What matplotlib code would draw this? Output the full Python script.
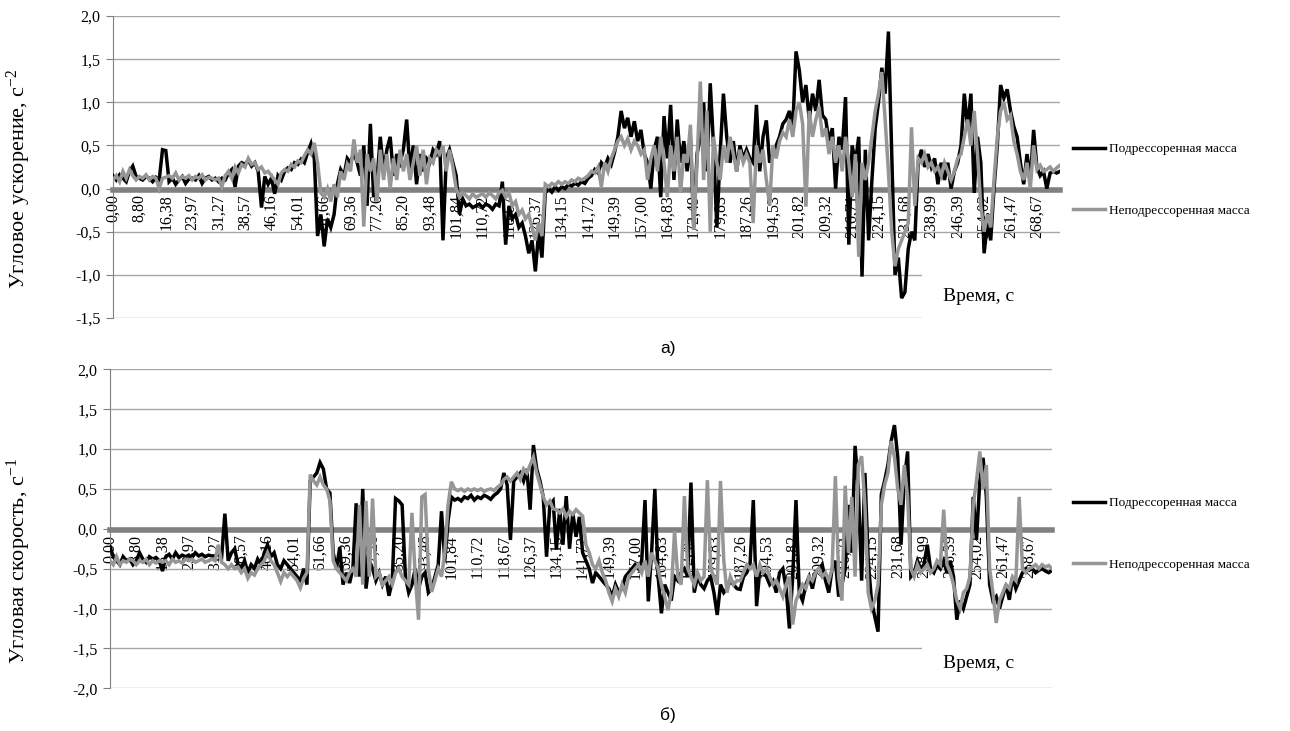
import matplotlib
matplotlib.use("Agg")
import matplotlib.pyplot as plt
from matplotlib.patches import Rectangle
from matplotlib.ticker import FixedLocator

plt.rcParams['font.family'] = ['Liberation Serif', 'DejaVu Serif']
plt.rcParams['mathtext.fontset'] = 'custom'
plt.rcParams['mathtext.rm'] = 'Liberation Serif'
plt.rcParams['mathtext.it'] = 'Liberation Serif'

# ---------------- data ----------------
time_labels = ["0,00", "8,80", "16,38", "23,97", "31,27", "38,57", "46,16", "54,01",
               "61,66", "69,36", "77,26", "85,20", "93,48", "101,84", "110,72", "118,67",
               "126,37", "134,15", "141,72", "149,39", "157,00", "164,83", "172,49", "179,83",
               "187,26", "194,53", "201,82", "209,32", "216,71", "224,15", "231,68", "238,99",
               "246,39", "254,02", "261,47", "268,67"]
samples_per_label = 8

y_ticks_a = [-1.5, -1.0, -0.5, 0.0, 0.5, 1.0, 1.5, 2.0]
y_ticklabels_a = ["-1,5", "-1,0", "-0,5", "0,0", "0,5", "1,0", "1,5", "2,0"]
y_ticks_b = [-2.0, -1.5, -1.0, -0.5, 0.0, 0.5, 1.0, 1.5, 2.0]
y_ticklabels_b = ["-2,0", "-1,5", "-1,0", "-0,5", "0,0", "0,5", "1,0", "1,5", "2,0"]

series_names = ["Подрессоренная масса", "Неподрессоренная масса"]

# (a) angular acceleration, sprung mass
accel_sprung = [
    0.15, 0.10, 0.16, 0.12, 0.08, 0.20, 0.26, 0.14,
    0.12, 0.10, 0.14, 0.12, 0.08, 0.13, 0.10, 0.45,
    0.44, 0.08, 0.12, 0.05, 0.10, 0.14, 0.06, 0.11,
    0.12, 0.10, 0.15, 0.06, 0.12, 0.14, 0.10, 0.12,
    0.08, 0.12, 0.10, 0.18, 0.22, 0.02, 0.26, 0.30,
    0.28, 0.33, 0.26, 0.30, 0.20, -0.22, 0.14, 0.05,
    0.12, -0.06, 0.15, 0.10, 0.20, 0.24, 0.22, 0.30,
    0.28, 0.34, 0.30, 0.42, 0.52, 0.35, -0.55, -0.30,
    -0.67, -0.35, -0.45, -0.30, 0.05, 0.22, 0.15, 0.35,
    0.30, 0.42, 0.30, 0.15, 0.50, -0.20, 0.75, -0.10,
    0.10, 0.60, 0.20, 0.45, 0.60, 0.15, 0.40, 0.30,
    0.45, 0.80, 0.20, 0.50, 0.05, 0.40, 0.20, 0.35,
    0.30, 0.45, 0.40, 0.55, -0.60, 0.35, 0.45, 0.30,
    0.15, -0.30, -0.12, -0.20, -0.18, -0.22, -0.20, -0.18,
    -0.22, -0.18, -0.20, -0.24, -0.18, -0.20, 0.08, -0.65,
    -0.20, -0.35, -0.30, -0.45, -0.40, -0.55, -0.75, -0.60,
    -0.96, -0.50, -0.80, -0.05, 0.00, -0.04, 0.02, -0.02,
    0.02, 0.00, 0.05, 0.03, 0.06, 0.04, 0.08, 0.06,
    0.12, 0.15, 0.22, 0.18, 0.30, 0.25, 0.35, 0.28,
    0.42, 0.60, 0.90, 0.70, 0.82, 0.60, 0.78, 0.55,
    0.68, 0.40, 0.30, 0.00, 0.45, 0.60, -0.10, 0.84,
    0.35, 0.97, 0.10, 0.80, 0.30, 0.55, 0.20, 0.60,
    -0.45, 0.40, 0.60, 1.00, 0.20, 1.22, 0.50, -0.45,
    0.40, 1.10, 0.60, 0.30, 0.55, 0.20, 0.50, 0.35,
    0.45, 0.35, 0.30, 0.97, 0.20, 0.60, 0.79, 0.30,
    0.40, 0.50, 0.60, 0.75, 0.80, 0.90, 0.70, 1.59,
    1.37, 1.00, 1.20, 0.80, 1.10, 0.90, 1.26, 0.85,
    0.80, 0.55, 0.70, 0.00, 0.60, 0.45, 1.06, -0.65,
    0.50, 0.30, 0.60, -1.02, 0.45, -0.60, 0.10, 0.70,
    1.00, 1.40, 1.10, 1.82, 0.40, -1.00, -0.80, -1.27,
    -1.20, -0.70, -0.50, -0.60, 0.30, 0.45, 0.25, 0.40,
    0.25, 0.35, 0.05, 0.30, 0.10, 0.30, 0.00, 0.20,
    0.30, 0.50, 1.10, 0.70, 1.10, -0.05, 0.60, 0.30,
    -0.75, -0.40, -0.60, 0.00, 0.50, 1.20, 1.05, 1.15,
    0.90, 0.72, 0.60, 0.30, 0.05, 0.40, 0.10, 0.68,
    0.25, 0.15, 0.20, 0.00, 0.18, 0.20, 0.18, 0.20,
]

# (a) angular acceleration, unsprung mass
accel_unsprung = [
    0.10, 0.15, 0.08, 0.20, 0.12, 0.22, 0.15, 0.10,
    0.14, 0.12, 0.16, 0.10, 0.14, 0.12, 0.00, 0.12,
    0.13, 0.15, 0.12, 0.18, 0.10, 0.14, 0.12, 0.15,
    0.10, 0.14, 0.12, 0.16, 0.10, 0.13, 0.12, 0.10,
    0.12, 0.02, 0.15, 0.20, 0.12, 0.25, 0.18, 0.28,
    0.25, 0.35, 0.28, 0.30, 0.22, 0.25, 0.18, 0.20,
    0.15, 0.10, 0.05, 0.18, 0.22, 0.20, 0.28, 0.25,
    0.32, 0.30, 0.38, 0.45, 0.40, 0.53, 0.30, -0.05,
    -0.10, 0.00, -0.15, 0.05, -0.10, 0.20, 0.10, 0.28,
    0.20, 0.57, 0.30, 0.45, -0.44, 0.40, 0.20, 0.35,
    -0.15, 0.45, 0.10, 0.40, 0.00, 0.35, 0.10, 0.45,
    0.20, 0.40, 0.10, 0.30, 0.50, 0.15, 0.45, 0.05,
    0.35, 0.30, 0.45, 0.40, 0.50, 0.20, 0.45, 0.25,
    0.00, -0.10, -0.05, -0.08, -0.12, -0.06, -0.10, -0.08,
    -0.06, -0.10, -0.05, -0.08, -0.12, -0.05, -0.02, -0.10,
    -0.05, -0.20, -0.15, -0.30, -0.25, -0.35, -0.30, -0.45,
    -0.60, -0.40, -0.55, 0.05, 0.02, 0.06, 0.04, 0.08,
    0.05, 0.08, 0.06, 0.10, 0.08, 0.12, 0.10, 0.12,
    0.15, 0.20, 0.18, 0.25, 0.02, 0.30, 0.20, 0.35,
    0.45, 0.55, 0.60, 0.50, 0.58, 0.45, 0.55, 0.50,
    0.40, 0.45, 0.10, 0.35, 0.50, 0.20, 0.60, 0.30,
    -0.10, 0.50, 0.20, 0.60, -0.05, 0.40, 0.30, 0.74,
    -0.48, 0.30, 1.24, 0.10, 0.90, -0.50, 0.60, 0.30,
    0.10, 0.50, 0.30, 0.60, 0.40, 0.20, 0.45, 0.30,
    0.40, 0.30, -0.40, 0.50, 0.30, 0.45, 0.10, -0.20,
    0.50, 0.35, 0.55, 0.65, 0.60, 0.80, 0.60, 0.90,
    1.00, 0.75, -0.21, 0.90, 0.60, 0.80, 0.95, 0.60,
    0.70, 0.40, 0.60, 0.30, 0.50, 0.20, 0.60, 0.30,
    -0.10, 0.40, -0.79, 0.30, 0.10, 0.30, 0.60, 0.90,
    1.10, 1.35, 0.80, 0.20, -0.50, -0.90, -0.70, -0.60,
    -0.50, -0.40, 0.71, -0.20, 0.35, 0.30, 0.40, 0.25,
    0.30, 0.20, 0.25, 0.15, 0.30, 0.20, 0.10, 0.20,
    0.35, 0.40, 0.60, 0.80, 0.50, 0.90, 0.40, -0.20,
    -0.50, -0.30, -0.45, 0.10, 0.60, 0.90, 1.00, 0.80,
    0.85, 0.55, 0.40, 0.20, 0.10, 0.30, 0.00, 0.50,
    0.22, 0.27, 0.20, 0.22, 0.25, 0.20, 0.24, 0.27,
]

# (б) angular velocity, sprung mass
vel_sprung = [
    -0.22, -0.35, -0.40, -0.45, -0.35, -0.40, -0.38, -0.45,
    -0.40, -0.30, -0.38, -0.42, -0.35, -0.38, -0.36, -0.40,
    -0.53, -0.35, -0.32, -0.38, -0.30, -0.36, -0.33, -0.35,
    -0.33, -0.36, -0.30, -0.34, -0.32, -0.35, -0.33, -0.34,
    -0.34, -0.32, -0.36, 0.19, -0.40, -0.30, -0.25, -0.45,
    -0.50, -0.40, -0.55, -0.45, -0.50, -0.38, -0.45, -0.30,
    -0.20, -0.35, -0.30, -0.45, -0.50, -0.40, -0.45, -0.50,
    -0.55, -0.60, -0.65, -0.50, -0.70, 0.60, 0.65, 0.70,
    0.83, 0.75, 0.50, 0.45, -0.30, -0.50, -0.23, -0.70,
    -0.55, -0.68, -0.50, 0.32, -0.60, 0.50, -0.75, -0.40,
    -0.50, -0.65, -0.55, -0.70, -0.60, -0.84, -0.65, 0.38,
    0.35, 0.30, -0.60, -0.80, -0.70, -0.50, -0.75, -0.60,
    -0.55, -0.80, -0.75, -0.60, -0.45, 0.22, -0.40, 0.10,
    0.40, 0.36, 0.38, 0.35, 0.40, 0.38, 0.42, 0.36,
    0.40, 0.38, 0.42, 0.40, 0.37, 0.42, 0.45, 0.50,
    0.70, 0.55, -0.14, 0.60, 0.65, 0.70, 0.60, 0.75,
    0.24, 1.05, 0.75, 0.60, 0.40, -0.35, 0.30, 0.35,
    -0.26, 0.25, -0.20, 0.41, -0.25, 0.20, -0.10, 0.15,
    -0.30, -0.40, -0.50, -0.68, -0.55, -0.60, -0.65, -0.70,
    -0.75, -0.85, -0.70, -0.80, -0.75, -0.60, -0.55, -0.50,
    -0.45, -0.50, -0.40, 0.36, -0.91, -0.30, 0.50, -0.60,
    -1.06, -0.70, -0.80, -0.90, -0.60, -0.65, -0.55, -0.50,
    -0.60, 0.58, -0.80, -0.60, -0.70, -0.75, -0.65, -0.60,
    -0.80, -1.08, -0.70, -0.80, -0.75, -0.65, -0.70, -0.75,
    -0.76, -0.60, -0.55, -0.45, 0.36, -0.97, -0.50, -0.55,
    -0.60, -0.70, -0.65, -0.80, -0.55, -0.50, -0.75, -1.25,
    -0.60, 0.36, -0.80, -0.90, -0.70, -0.60, -0.75, -0.55,
    -0.50, -0.45, -0.65, -0.80, -0.50, -0.40, -0.85, -0.70,
    -0.50, 0.30, -0.30, 1.04, 0.50, -0.65, 0.70, -0.40,
    -0.90, -1.10, -1.29, 0.43, 0.60, 0.80, 1.10, 1.30,
    0.90, -0.20, 0.60, 0.97, -0.60, -0.55, -0.40, -0.50,
    -0.45, -0.20, -0.50, -0.55, -0.45, -0.50, -0.40, -0.55,
    -0.40, -0.60, -1.14, -0.90, -1.00, -0.85, -0.70, 0.40,
    -0.14, 0.60, 0.89, 0.40, -0.70, -0.90, -0.85, -1.00,
    -0.85, -0.70, -0.89, -0.60, -0.75, -0.65, -0.55, -0.50,
    -0.52, -0.50, -0.55, -0.52, -0.50, -0.53, -0.55, -0.52,
]

# (б) angular velocity, unsprung mass
vel_unsprung = [
    -0.40, -0.45, -0.35, -0.45, -0.40, -0.42, -0.38, -0.40,
    -0.45, -0.40, -0.42, -0.38, -0.45, -0.40, -0.43, -0.40,
    -0.42, -0.40, -0.45, -0.38, -0.42, -0.40, -0.43, -0.38,
    -0.40, -0.38, -0.42, -0.40, -0.38, -0.42, -0.40, -0.38,
    -0.40, -0.20, -0.42, -0.45, -0.50, -0.45, -0.50, -0.48,
    -0.55, -0.50, -0.62, -0.55, -0.58, -0.50, -0.45, -0.40,
    -0.30, -0.40, -0.45, -0.55, -0.66, -0.55, -0.60, -0.55,
    -0.60, -0.65, -0.74, -0.62, -0.55, 0.68, 0.60, 0.55,
    0.65, 0.55, 0.50, 0.35, -0.40, -0.50, -0.55, -0.60,
    -0.65, -0.55, -0.50, -0.60, 0.30, -0.70, 0.35, -0.60,
    0.38, -0.60, -0.55, -0.70, -0.65, -0.60, -0.70, -0.55,
    -0.50, -0.60, -0.65, -0.70, 0.20, -0.60, -1.14, 0.40,
    0.43, -0.50, -0.79, -0.65, -0.50, -0.60, -0.30, 0.30,
    0.59, 0.50, 0.48, 0.50, 0.47, 0.50, 0.48, 0.50,
    0.48, 0.50, 0.47, 0.49, 0.50, 0.48, 0.52, 0.55,
    0.62, 0.65, 0.60, 0.65, 0.70, 0.62, 0.75, 0.70,
    0.80, 0.90, 0.70, 0.55, 0.40, 0.30, 0.35, 0.25,
    0.24, 0.20, 0.25, 0.15, 0.22, 0.18, 0.24, 0.20,
    0.16, -0.20, -0.30, -0.45, -0.50, -0.40, -0.55, -0.65,
    -0.80, -0.91, -0.75, -0.85, -0.70, -0.80, -0.60, -0.55,
    -0.50, -0.45, -0.55, -0.40, -0.60, -0.30, -0.40, -0.50,
    -0.70, -0.85, -1.02, -0.80, -0.03, -0.60, -0.70, 0.41,
    -0.50, -0.60, -0.70, -0.55, -0.65, -0.60, 0.61, -0.50,
    -0.60, -0.70, 0.60, -0.40, -0.80, -0.60, -0.70, -0.65,
    -0.65, -0.55, -0.45, -0.50, -0.45, -0.60, -0.45, -0.55,
    -0.50, -0.60, -0.70, -0.65, -0.75, -0.85, -0.70, -0.60,
    -1.20, -0.90, -0.80, -0.70, -0.75, -0.60, -0.65, -0.55,
    -0.50, -0.60, -0.55, -0.65, -0.50, 0.66, -0.60, -0.90,
    0.54, -0.30, 0.40, -0.60, 0.80, 0.91, 0.30, -0.80,
    -1.00, -0.90, -0.70, 0.30, 0.55, 0.70, 1.10, 0.90,
    0.50, 0.30, 0.80, 0.40, -0.50, -0.60, -0.45, -0.55,
    -0.50, -0.45, -0.55, -0.50, -0.40, -0.45, 0.24, -0.45,
    -0.55, -0.70, -0.90, -1.00, -0.80, -0.75, -0.60, 0.30,
    0.60, 0.97, 0.50, 0.80, -0.50, -0.80, -1.18, -0.90,
    -0.80, -0.70, -0.75, -0.60, -0.65, 0.40, -0.50, -0.55,
    -0.50, -0.48, -0.45, -0.50, -0.45, -0.48, -0.46, -0.50,
]

# ---------------- styling ----------------
C_SPRUNG = "#000000"
C_UNSPRUNG = "#969696"
C_GRID = "#a6a6a6"
C_ZERO = "#808080"

fig = plt.figure(figsize=(12.9, 7.31), dpi=100)
W, H = 1290, 731


def make_panel(rect, s1, s2, yticks, yticklabels, ylim, ylabel, label_xy, box_rect,
               time_xy, leg_y, tag, tag_y):
    ax = fig.add_axes(rect)
    x = list(range(len(s1)))
    ax.plot(x, s1, color=C_SPRUNG, lw=2.5, zorder=4, label=series_names[0],
            solid_joinstyle='miter')
    ax.plot(x, s2, color=C_UNSPRUNG, lw=2.5, zorder=5, label=series_names[1],
            solid_joinstyle='miter')
    ax.set_xlim(0, len(s1) - 1)
    ax.set_ylim(*ylim)
    ax.yaxis.set_major_locator(FixedLocator(yticks))
    ax.set_yticklabels(yticklabels)
    ax.grid(axis='y', color=C_GRID, lw=1.0, zorder=0)
    ax.set_axisbelow(True)
    for s in ['top', 'right']:
        ax.spines[s].set_visible(False)
    ax.spines['left'].set_color(C_ZERO)
    ax.spines['left'].set_linewidth(0.8)
    ax.spines['bottom'].set_position(('data', -0.02))
    ax.spines['bottom'].set_color(C_ZERO)
    ax.spines['bottom'].set_linewidth(4.0)
    ax.spines['bottom'].set_zorder(3)
    tick_pos = [i * samples_per_label for i in range(len(time_labels))]
    ax.set_xticks(tick_pos)
    ax.set_xticklabels(time_labels, rotation=90, fontsize=11.5)
    ax.tick_params(axis='x', length=0, pad=3)
    ax.tick_params(axis='y', length=5, width=0.8, color=C_ZERO, labelsize=11.5, pad=4)
    for t in ax.get_xticklabels():
        t.set_verticalalignment('top')
    ax.set_ylabel(ylabel, fontsize=16)
    ax.yaxis.set_label_coords(*label_xy)
    # white area under the axis title "Время, с"
    ax.add_patch(Rectangle((box_rect[0], box_rect[1]), box_rect[2], box_rect[3],
                           transform=ax.transAxes, facecolor='white', edgecolor='none',
                           zorder=1, clip_on=False))
    fig.text(time_xy[0] / W, 1 - time_xy[1] / H, "Время, с", fontsize=14,
             ha='left', va='center')
    handles, labels = ax.get_legend_handles_labels()
    fig.legend(handles, labels, loc='center left',
               bbox_to_anchor=(1073 / W, 1 - leg_y / H), frameon=False,
               fontsize=9.5, handlelength=2.4, handletextpad=0.35,
               labelspacing=3.75, borderpad=0, borderaxespad=0)
    fig.text(668 / W, 1 - tag_y / H, tag, fontsize=12.5, ha='center', va='center',
             family=['Liberation Sans', 'DejaVu Sans'])
    return ax


ax1 = make_panel([113 / W, 1 - 318 / H, (1060 - 113) / W, 302 / H],
                 accel_sprung, accel_unsprung, y_ticks_a, y_ticklabels_a, (-1.5, 2.0),
                 "Угловое ускорение, с$^{-2}$", (-0.085, 0.46), (0.854, -0.02, 0.16, 0.24),
                 (943, 297), 180, "а)", 348)

ax2 = make_panel([110 / W, 1 - 688.3 / H, (1052 - 110) / W, 319 / H],
                 vel_sprung, vel_unsprung, y_ticks_b, y_ticklabels_b, (-2.0, 2.0),
                 "Угловая скорость, с$^{-1}$", (-0.082, 0.40), (0.862, 0.03, 0.15, 0.19),
                 (943, 663), 534, "б)", 715)

fig.savefig("out.png", dpi=100)
